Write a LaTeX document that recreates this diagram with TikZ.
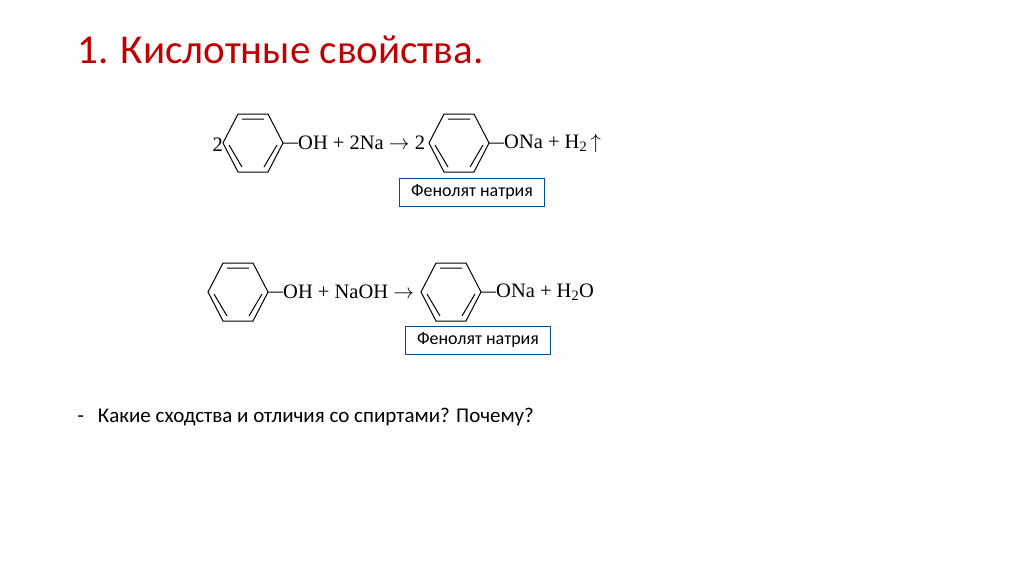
\documentclass[tikz,border=0pt]{standalone}
\usepackage{fontspec}
\setmainfont{Carlito}
\newfontfamily\chem{Liberation Serif}
\begin{document}
\begin{tikzpicture}[x=1pt,y=-1pt,
  ch/.style={font=\chem\fontsize{20.5}{20.5}\selectfont, inner sep=0pt, anchor=west},
  namebox/.style={draw=blue!50!cyan!60!black, line width=0.8pt, fill=white, minimum width=145pt, minimum height=28pt, font=\fontsize{18}{18}\selectfont, inner sep=0pt}]
\useasboundingbox (0,0) rectangle (1024,574);
\newcommand{\ring}[3]{%
  \begin{scope}[shift={(#1,#2)}]
  \coordinate (#3) at (45,0);
  \draw[line width=1pt] (45,0)--(30,0)--(15,-29)--(-15,-29)--(-30,0)--(-15,29)--(15,29)--(30,0);
  \draw[line width=1pt] (-11,-24)--(11,-24) (-24,2)--(-11,24) (24,2)--(11,24);
  \end{scope}}
\node[anchor=west, text=red!75!black, font=\fontsize{41}{41}\selectfont] (title) at (74,50) {1. Кислотные свойства.};
\ring{253}{143}{r1}
\ring{459}{143}{r2}
\ring{238}{292}{r3}
\ring{451}{292}{r4}
\node[ch, anchor=east] (two1) at (223,145) {2};
\node[ch] (t1) at (r1) {OH + 2Na $\rightarrow$ 2};
\node[ch] (t2) at (r2) {ONa + H\textsubscript{2}\,$\uparrow$};
\node[ch] (t3) at (r3) {OH + NaOH $\rightarrow$};
\node[ch] (t4) at (r4) {ONa + H\textsubscript{2}O};
\node[namebox] (b1) at (472,192) {Фенолят натрия};
\node[namebox] (b2) at (478,340) {Фенолят натрия};
\node[anchor=west, font=\fontsize{21}{21}\selectfont] (q) at (74,417) {-\hspace{14pt}Какие сходства и отличия со спиртами? Почему?};
\end{tikzpicture}
\end{document}
